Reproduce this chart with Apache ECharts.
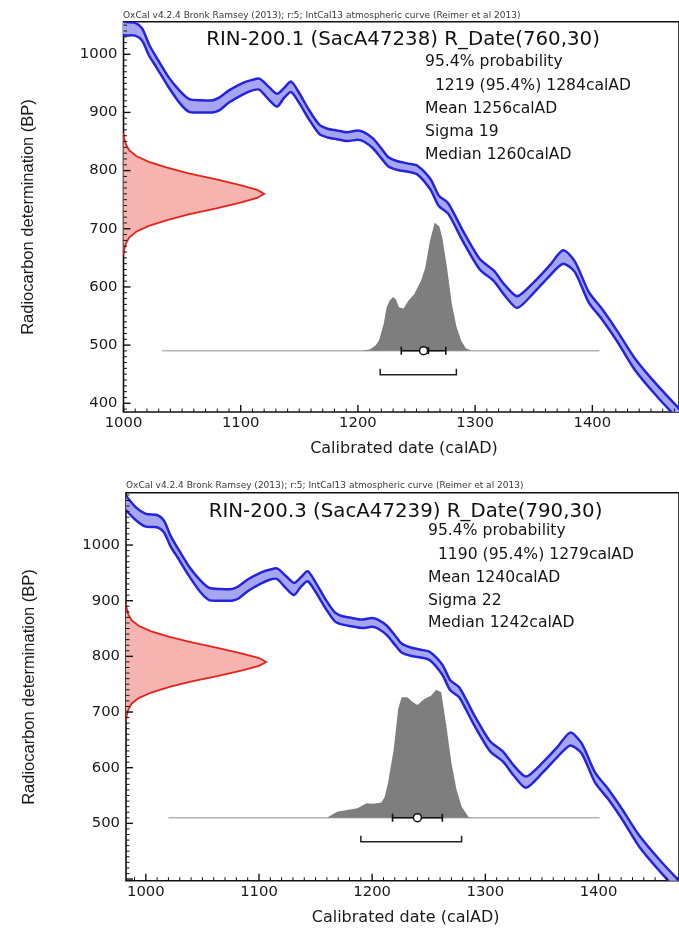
<!DOCTYPE html>
<html>
<head>
<meta charset="utf-8">
<script src="https://cdn.jsdelivr.net/npm/echarts@6/dist/echarts.min.js"></script>
<style>
  html, body { margin: 0; padding: 0; background: #fff; }
  #chart { width: 679px; height: 940px; }
</style>
</head>
<body>
<div id="chart"></div>
<script>
// IntCal13 atmospheric curve, 1-sigma envelope (calendar year AD -> radiocarbon age BP)
const curveYears = [980, 991, 1000, 1010, 1016, 1022, 1028, 1038, 1048, 1056, 1066, 1076, 1082, 1090, 1102, 1110, 1116, 1124, 1131, 1137, 1143, 1150, 1158, 1167, 1174, 1182, 1191, 1200, 1205, 1213, 1220, 1226, 1234, 1243, 1251, 1262, 1269, 1277, 1290, 1304, 1316, 1325, 1336, 1351, 1364, 1375, 1385, 1397, 1408, 1421, 1436, 1455, 1480];
const curveUpper = [1095, 1068, 1056, 1054, 1044, 1016, 995, 962, 937, 923, 921, 921, 926, 938, 951, 956, 958, 944, 932, 942, 953, 933, 905, 879, 872, 869, 866, 869, 866, 855, 838, 823, 816, 812, 808, 785, 757, 744, 695, 648, 628, 604, 584, 610, 638, 663, 644, 591, 563, 525, 478, 432, 378];
const curveLower = [1068, 1045, 1033, 1032, 1023, 997, 978, 945, 916, 901, 900, 900, 904, 917, 931, 938, 939, 922, 910, 925, 935, 916, 889, 863, 857, 854, 851, 853, 850, 838, 821, 807, 801, 798, 793, 767, 739, 726, 677, 630, 610, 586, 564, 592, 620, 640, 626, 573, 545, 507, 458, 412, 358];

// Samples
const sampleNames = ['RIN-200.1 (SacA47238) R_Date(760,30)', 'RIN-200.3 (SacA47239) R_Date(790,30)'];
const rangeFrom = [1219, 1190];
const rangeTo = [1284, 1279];
const means = [1256, 1240];
const sigmas = [19, 22];
const medians = [1260, 1242];
const creditLine = 'OxCal v4.2.4 Bronk Ramsey (2013); r:5; IntCal13 atmospheric curve (Reimer et al 2013)';

// Radiocarbon measurements (BP, relative probability)
const c14BP1 = [865, 855, 845, 835, 825, 815, 805, 795, 785, 775, 767, 760, 753, 745, 735, 725, 715, 705, 695, 685, 675, 665, 655];
const c14Prob1 = [0, 0.006, 0.017, 0.04, 0.09, 0.18, 0.31, 0.47, 0.66, 0.83, 0.95, 1.0, 0.95, 0.83, 0.66, 0.47, 0.31, 0.18, 0.09, 0.04, 0.017, 0.006, 0];
const c14BP2 = [895, 885, 875, 865, 855, 845, 835, 825, 815, 805, 797, 790, 783, 775, 765, 755, 745, 735, 725, 715, 705, 695, 685];
const c14Prob2 = [0, 0.006, 0.017, 0.04, 0.09, 0.18, 0.31, 0.47, 0.66, 0.83, 0.95, 1.0, 0.95, 0.83, 0.66, 0.47, 0.31, 0.18, 0.09, 0.04, 0.017, 0.006, 0];

// Calibrated date distributions (year AD, relative probability)
const calYears1 = [1203, 1210, 1215, 1218, 1222, 1224.5, 1227, 1230, 1232.5, 1235, 1239, 1243, 1248, 1254, 1257.5, 1261.5, 1265.5, 1269.5, 1272, 1276, 1280, 1284, 1288, 1292, 1297];
const calProb1 = [0, 0.01, 0.04, 0.08, 0.21, 0.34, 0.39, 0.42, 0.40, 0.34, 0.33, 0.39, 0.44, 0.55, 0.65, 0.86, 1.0, 0.97, 0.88, 0.65, 0.37, 0.19, 0.08, 0.02, 0];
const calYears2 = [1160, 1169, 1178, 1187, 1195, 1201, 1208, 1211, 1214, 1219, 1223, 1226, 1231, 1235.5, 1240, 1246, 1252, 1256.5, 1261, 1265.5, 1270, 1274.5, 1279, 1285, 1288];
const calProb2 = [0, 0.047, 0.06, 0.073, 0.113, 0.108, 0.118, 0.16, 0.27, 0.53, 0.85, 0.94, 0.94, 0.905, 0.88, 0.927, 0.953, 1.0, 0.98, 0.72, 0.43, 0.22, 0.087, 0.008, 0];
const calSpan1 = [1033, 1406];
const calSpan2 = [1020, 1401];

// Axis tick labels
const yTickLabels = [400, 500, 600, 700, 800, 900, 1000];
const xTickLabels = [1000, 1100, 1200, 1300, 1400];
const minorStep = 10;

// ---- layout (pixels) ----
const FONT = '"DejaVu Sans", "Liberation Sans", sans-serif';
const PANELS = [
  { left: 123.5, top: 21.7, height: 390.3, width: 600, xMin: 1000, pxPerYear: 1.266, yMin: 385, yMax: 1056, baseBP: 490.4,
    showFirstX: true, titleX: 403, titleY: 40, creditX: 123, creditY: 16, statsX: 425, statsY: [62, 86, 109, 131.5, 154.5],
    xNameX: 404, xNameY: 448.5, yNameX: 28, yNameY: 217 },
  { left: 126, top: 492.7, height: 388, width: 600, xMin: 982.5, pxPerYear: 1.228, yMin: 397, yMax: 1094, baseBP: 510.2,
    showFirstX: false, titleX: 405.5, titleY: 511.7, creditX: 126, creditY: 486, statsX: 428, statsY: [531, 555, 578.3, 601, 623.3],
    xNameX: 405.6, xNameY: 918.3, yNameX: 29, yNameY: 687 }
];
const RED_PEAK_PX = 152;
const GRAY_PEAK_PX = 128;
const BRACKET_DROP_PX = 24;
const MAJOR_TICK_PX = 7;
const MINOR_TICK_PX = 3.5;

const c14Sets = [[c14BP1, c14Prob1], [c14BP2, c14Prob2]];
const calSets = [[calYears1, calProb1, calSpan1], [calYears2, calProb2, calSpan2]];

const grids = [], xAxes = [], yAxes = [], series = [], graphics = [];
const noLine = { show: false, onZero: false };

PANELS.forEach((P, p) => {
  const xMax = P.xMin + P.width / P.pxPerYear;
  grids.push({ left: P.left, top: P.top, width: P.width, height: P.height, show: true,
    borderColor: '#111', borderWidth: 1.6, backgroundColor: 'transparent' });

  const baseFrac = (P.baseBP - P.yMin) / (P.yMax - P.yMin);
  const grayMin = -baseFrac * P.height / GRAY_PEAK_PX;
  const grayMax = (1 - baseFrac) * P.height / GRAY_PEAK_PX;

  // x axes: calendar years (labelled) and radiocarbon probability
  xAxes.push({ type: 'value', gridIndex: p, position: 'bottom', min: P.xMin, max: xMax,
    minInterval: 100, maxInterval: 100,
    axisLine: noLine, splitLine: { show: false }, axisTick: { show: false },
    axisLabel: { show: true, margin: 4, fontFamily: FONT, fontSize: 14.8, color: '#1a1a1a',
      showMinLabel: P.showFirstX, showMaxLabel: false,
      formatter: v => xTickLabels.indexOf(v) >= 0 ? String(v) : '' } });
  xAxes.push({ type: 'value', gridIndex: p, position: 'top', min: 0, max: P.width / RED_PEAK_PX, show: false,
    axisLine: noLine });

  // y axes: radiocarbon age (labelled) and calibrated probability
  yAxes.push({ type: 'value', gridIndex: p, position: 'left', min: P.yMin, max: P.yMax,
    minInterval: 100, maxInterval: 100,
    axisLine: noLine, splitLine: { show: false }, axisTick: { show: false },
    axisLabel: { show: true, margin: 6, fontFamily: FONT, fontSize: 14.8, color: '#1a1a1a',
      showMinLabel: false, showMaxLabel: false,
      formatter: v => (yTickLabels.indexOf(v) >= 0 && v > P.yMin + 10) ? String(v) : '' } });
  yAxes.push({ type: 'value', gridIndex: p, position: 'right', min: grayMin, max: grayMax, show: false,
    axisLine: noLine });

  const xMain = 2 * p, xRed = 2 * p + 1, yMain = 2 * p, yGray = 2 * p + 1;
  const [bp, prob] = c14Sets[p];
  const [calY, calP, span] = calSets[p];

  // tick marks (inside the frame), placed through the axis scales
  series.push({
    type: 'custom', coordinateSystem: 'cartesian2d', xAxisIndex: xMain, yAxisIndex: yMain,
    clip: false, silent: true, z: 6, data: [[P.xMin, P.yMin]],
    renderItem: (params, api) => {
      const kids = [];
      const st = w => ({ stroke: '#111', lineWidth: w });
      for (let v = Math.ceil(P.xMin / minorStep) * minorStep; v < xMax; v += minorStep) {
        const c = api.coord([v, P.yMin]);
        const major = xTickLabels.indexOf(v) >= 0;
        const len = major ? MAJOR_TICK_PX : MINOR_TICK_PX;
        kids.push({ type: 'line', shape: { x1: c[0], y1: c[1], x2: c[0], y2: c[1] - len }, style: st(major ? 1.4 : 1) });
      }
      for (let v = Math.ceil(P.yMin / minorStep) * minorStep; v < P.yMax; v += minorStep) {
        const c = api.coord([P.xMin, v]);
        const major = yTickLabels.indexOf(v) >= 0;
        const len = major ? MAJOR_TICK_PX : MINOR_TICK_PX;
        kids.push({ type: 'line', shape: { x1: c[0], y1: c[1], x2: c[0] + len, y2: c[1] }, style: st(major ? 1.4 : 1) });
      }
      return { type: 'group', children: kids };
    }
  });

  // calibrated distribution: baseline and filled profile
  series.push({
    type: 'custom', coordinateSystem: 'cartesian2d', xAxisIndex: xMain, yAxisIndex: yGray,
    clip: true, silent: true, z: 2, data: [[calY[0], 0]],
    renderItem: (params, api) => {
      const a = api.coord([span[0], 0]), b = api.coord([span[1], 0]);
      const pts = calY.map((y, i) => api.coord([y, calP[i]]));
      const first = api.coord([calY[0], 0]), last = api.coord([calY[calY.length - 1], 0]);
      return { type: 'group', children: [
        { type: 'line', shape: { x1: a[0], y1: a[1], x2: b[0], y2: b[1] }, style: { stroke: '#b3b3b3', lineWidth: 1.6 } },
        { type: 'polygon', shape: { points: [first].concat(pts, [last]) }, style: { fill: '#7e7e7e', stroke: null } }
      ] };
    }
  });

  // radiocarbon measurement on the BP axis
  series.push({
    type: 'custom', coordinateSystem: 'cartesian2d', xAxisIndex: xRed, yAxisIndex: yMain,
    clip: true, silent: true, z: 3, data: [[0, bp[0]]],
    renderItem: (params, api) => {
      const pts = bp.map((b, i) => api.coord([prob[i], b]));
      const s = api.coord([0, bp[0]]), e = api.coord([0, bp[bp.length - 1]]);
      return { type: 'group', children: [
        { type: 'polygon', shape: { points: [s].concat(pts, [e]) }, style: { fill: '#f6b4b0', stroke: null } },
        { type: 'polyline', shape: { points: pts }, style: { stroke: '#e3231d', lineWidth: 1.8, fill: null } }
      ] };
    }
  });

  // calibration curve envelope
  series.push({
    type: 'custom', coordinateSystem: 'cartesian2d', xAxisIndex: xMain, yAxisIndex: yMain,
    clip: true, silent: true, z: 4, data: [[curveYears[0], curveUpper[0]]],
    renderItem: (params, api) => {
      const top = curveYears.map((y, i) => api.coord([y, curveUpper[i]]));
      const bot = curveYears.map((y, i) => api.coord([y, curveLower[i]]));
      return { type: 'group', children: [
        { type: 'polygon', shape: { points: top.concat(bot.slice().reverse()) }, style: { fill: '#a6a6f0', stroke: null } },
        { type: 'polyline', shape: { points: top, smooth: 0.25 }, style: { stroke: '#2424e0', lineWidth: 2.5, fill: null } },
        { type: 'polyline', shape: { points: bot, smooth: 0.25 }, style: { stroke: '#2424e0', lineWidth: 2.5, fill: null } }
      ] };
    }
  });

  // mean +/- sigma, median and 95.4% range
  series.push({
    type: 'custom', coordinateSystem: 'cartesian2d', xAxisIndex: xMain, yAxisIndex: yGray,
    clip: false, silent: true, z: 5, data: [[means[p], 0]],
    renderItem: (params, api) => {
      const m = api.coord([means[p], 0]);
      const lo = api.coord([means[p] - sigmas[p], 0]);
      const hi = api.coord([means[p] + sigmas[p], 0]);
      const md = api.coord([medians[p], 0]);
      const r0 = api.coord([rangeFrom[p], 0]);
      const r1 = api.coord([rangeTo[p], 0]);
      const by = r0[1] + BRACKET_DROP_PX;
      const st = { stroke: '#111', lineWidth: 1.6 };
      return { type: 'group', children: [
        { type: 'line', shape: { x1: lo[0], y1: lo[1], x2: hi[0], y2: hi[1] }, style: st },
        { type: 'line', shape: { x1: lo[0], y1: lo[1] - 4, x2: lo[0], y2: lo[1] + 4 }, style: st },
        { type: 'line', shape: { x1: hi[0], y1: hi[1] - 4, x2: hi[0], y2: hi[1] + 4 }, style: st },
        { type: 'line', shape: { x1: md[0], y1: md[1] - 3.5, x2: md[0], y2: md[1] + 3.5 }, style: { stroke: '#111', lineWidth: 2 } },
        { type: 'circle', shape: { cx: m[0], cy: m[1], r: 4 }, style: { fill: '#fff', stroke: '#111', lineWidth: 1.5 } },
        { type: 'polyline', shape: { points: [[r0[0], by - 6], [r0[0], by], [r1[0], by], [r1[0], by - 6]] }, style: { stroke: '#222', lineWidth: 1.5, fill: null } }
      ] };
    }
  });

  // texts
  const stats = ['95.4% probability', '  ' + rangeFrom[p] + ' (95.4%) ' + rangeTo[p] + 'calAD',
    'Mean ' + means[p] + 'calAD', 'Sigma ' + sigmas[p], 'Median ' + medians[p] + 'calAD'];
  graphics.push({ type: 'text', x: P.creditX, y: P.creditY, silent: true,
    style: { text: creditLine, font: '9px ' + FONT, fill: '#3a3a3a', align: 'left', verticalAlign: 'middle' } });
  graphics.push({ type: 'text', x: P.titleX, y: P.titleY, silent: true,
    style: { text: sampleNames[p], font: '19.8px ' + FONT, fill: '#111', align: 'center', verticalAlign: 'middle' } });
  stats.forEach((s, i) => graphics.push({ type: 'text', x: P.statsX, y: P.statsY[i], silent: true,
    style: { text: s, font: '15.6px ' + FONT, fill: '#161616', align: 'left', verticalAlign: 'middle' } }));
  graphics.push({ type: 'text', x: P.xNameX, y: P.xNameY, silent: true,
    style: { text: 'Calibrated date (calAD)', font: '16px ' + FONT, fill: '#1a1a1a', align: 'center', verticalAlign: 'middle' } });
  graphics.push({ type: 'text', x: P.yNameX, y: P.yNameY, rotation: Math.PI / 2, silent: true,
    style: { text: 'Radiocarbon determination (BP)', font: '16.5px "Liberation Sans", Arial, sans-serif', fill: '#1a1a1a', align: 'center', verticalAlign: 'middle' } });
});

const chart = echarts.init(document.getElementById('chart'), null, { renderer: 'canvas' });
chart.setOption({
  animation: false,
  backgroundColor: '#fff',
  grid: grids,
  xAxis: xAxes,
  yAxis: yAxes,
  series: series,
  graphic: graphics
});
</script>
</body>
</html>
